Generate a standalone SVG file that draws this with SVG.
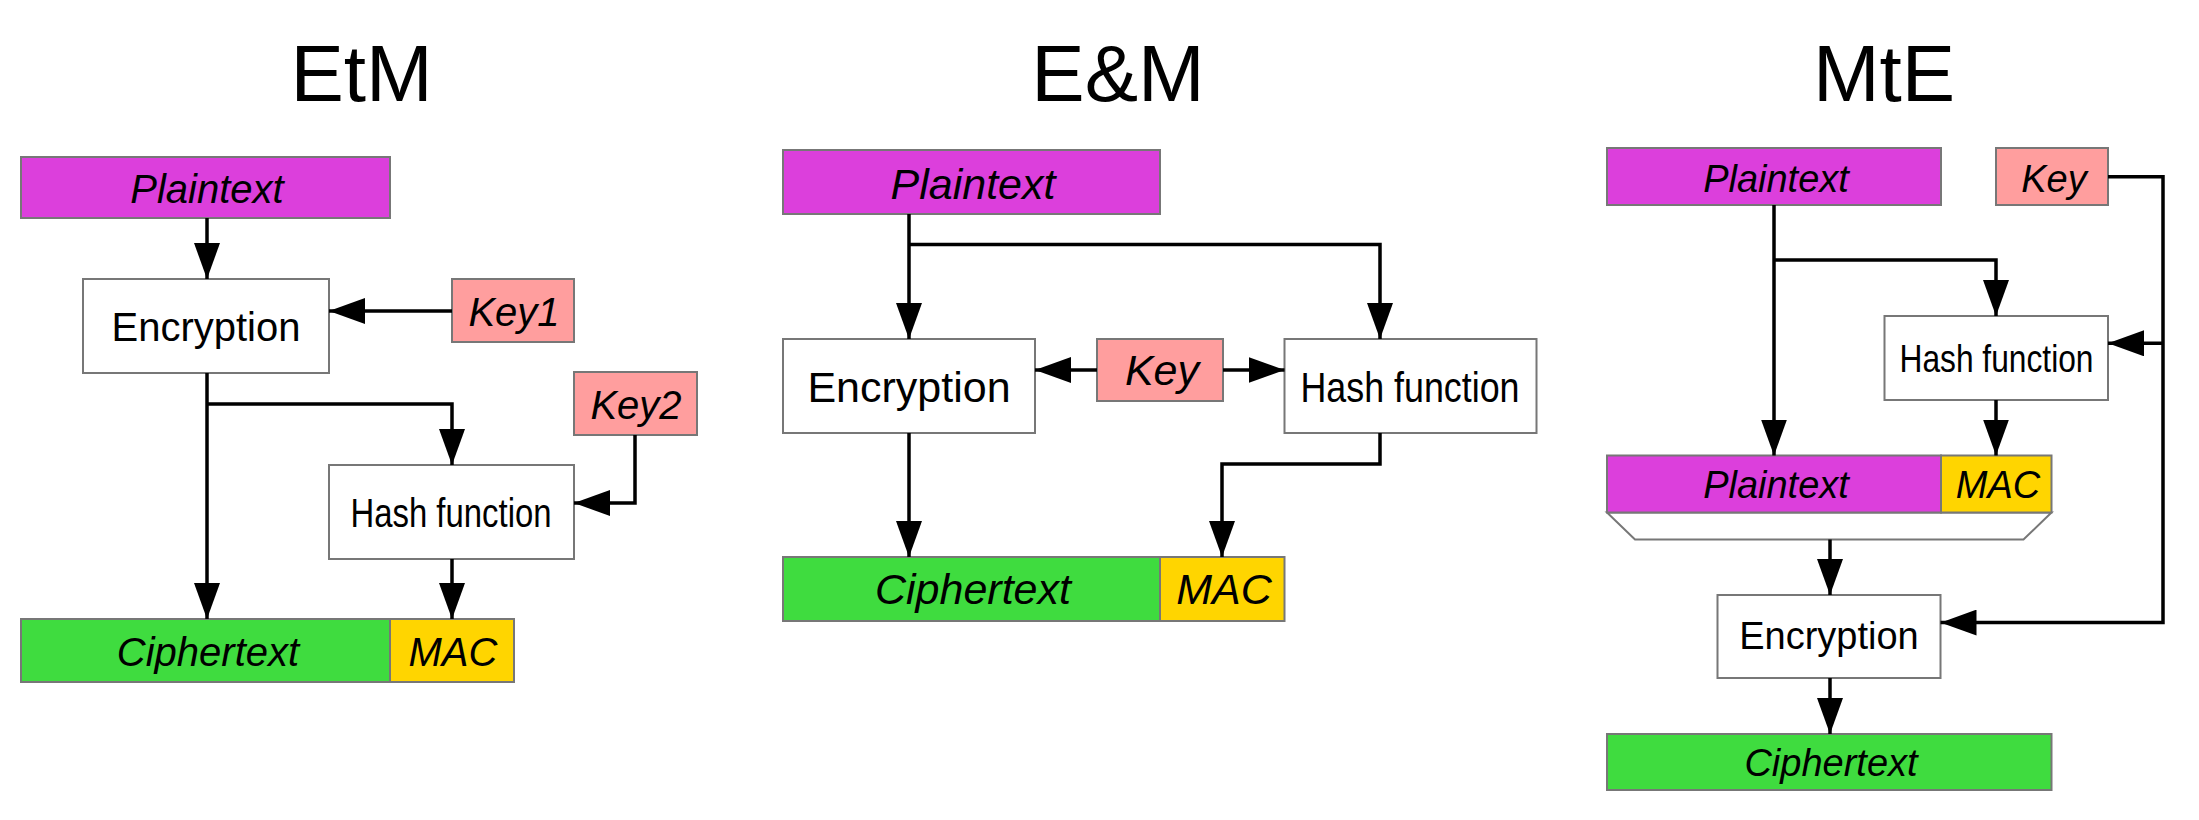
<svg xmlns="http://www.w3.org/2000/svg" width="2199" height="820" viewBox="0 0 2199 820">
<defs>
<marker id="ah" markerUnits="userSpaceOnUse" markerWidth="36" markerHeight="26" refX="36" refY="13" orient="auto">
<path d="M0,0 L36,13 L0,26 Z" fill="#000"/>
</marker>
<style>
.title{font-family:"Liberation Sans",Arial,sans-serif;font-size:80px;fill:#000;text-anchor:middle}
.lbl{font-family:"Liberation Sans",Arial,sans-serif;fill:#000;text-anchor:middle}
.it{font-style:italic}
.box{stroke:#777;stroke-width:2}
.pt{fill:#DC3FDC}
.ct{fill:#3FDC3F}
.mac{fill:#FFD500}
.key{fill:#FF9E9E}
.op{fill:#FFFFFF}
.f40{font-size:40px}
.f43{font-size:43px}
.f38{font-size:38px}
.conn path{fill:none;stroke:#000;stroke-width:3.5}
</style>
</defs>
<rect width="2199" height="820" fill="#fff"/>

<text class="title" x="361.5" y="101">EtM</text>
<text class="title" x="1118" y="101">E&amp;M</text>
<text class="title" x="1884" y="101">MtE</text>

<!-- EtM -->
<g id="etm-plaintext"><rect class="box pt" x="21" y="157" width="369" height="61"/><text class="lbl it f40" x="207" y="203">Plaintext</text></g>
<g id="etm-encryption"><rect class="box op" x="83" y="279" width="246" height="94"/><text class="lbl f40" x="206" y="341">Encryption</text></g>
<g id="etm-key1"><rect class="box key" x="452" y="279" width="122" height="63"/><text class="lbl it f40" x="514" y="326">Key1</text></g>
<g id="etm-key2"><rect class="box key" x="574" y="372" width="123" height="63"/><text class="lbl it f40" x="636" y="419">Key2</text></g>
<g id="etm-hash"><rect class="box op" x="329" y="465" width="245" height="94"/><text class="lbl f40" x="451" y="527" textLength="201" lengthAdjust="spacingAndGlyphs">Hash function</text></g>
<g id="etm-ciphertext"><rect class="box ct" x="21" y="619" width="369" height="63"/><text class="lbl it f40" x="208" y="666">Ciphertext</text></g>
<g id="etm-mac"><rect class="box mac" x="390" y="619" width="124" height="63"/><text class="lbl it f40" x="453" y="666">MAC</text></g>

<!-- E&M -->
<g id="em-plaintext"><rect class="box pt" x="783" y="150" width="377" height="64"/><text class="lbl it f43" x="973" y="199">Plaintext</text></g>
<g id="em-encryption"><rect class="box op" x="783" y="339" width="252" height="94"/><text class="lbl f43" x="909" y="402">Encryption</text></g>
<g id="em-key"><rect class="box key" x="1097" y="339" width="126" height="62"/><text class="lbl it f43" x="1162" y="385">Key</text></g>
<g id="em-hash"><rect class="box op" x="1284.5" y="339" width="252" height="94"/><text class="lbl f43" x="1410" y="402" textLength="219" lengthAdjust="spacingAndGlyphs">Hash function</text></g>
<g id="em-ciphertext"><rect class="box ct" x="783" y="557" width="377" height="64"/><text class="lbl it f43" x="973" y="604">Ciphertext</text></g>
<g id="em-mac"><rect class="box mac" x="1160" y="557" width="124.5" height="64"/><text class="lbl it f43" x="1224" y="604">MAC</text></g>

<!-- MtE -->
<g id="mte-plaintext"><rect class="box pt" x="1607" y="148" width="334" height="57"/><text class="lbl it f38" x="1776" y="192">Plaintext</text></g>
<g id="mte-key"><rect class="box key" x="1996" y="148" width="112" height="57"/><text class="lbl it f38" x="2054" y="192">Key</text></g>
<g id="mte-hash"><rect class="box op" x="1884.5" y="316" width="223.5" height="84"/><text class="lbl f38" x="1996.5" y="372" textLength="194" lengthAdjust="spacingAndGlyphs">Hash function</text></g>
<g id="mte-plaintext-mac">
<polygon class="box op" points="1607,512.5 2051.5,512.5 2023.5,539.5 1635,539.5"/>
<rect class="box pt" x="1607" y="455.5" width="334" height="57"/><text class="lbl it f38" x="1776" y="498">Plaintext</text>
<rect class="box mac" x="1941" y="455.5" width="110.5" height="57"/><text class="lbl it f38" x="1998" y="498">MAC</text>
</g>
<g id="mte-encryption"><rect class="box op" x="1717.5" y="595" width="223" height="83"/><text class="lbl f38" x="1829" y="649">Encryption</text></g>
<g id="mte-ciphertext"><rect class="box ct" x="1607" y="734" width="444.5" height="56"/><text class="lbl it f38" x="1831" y="776">Ciphertext</text></g>

<g id="connectors" class="conn">
<!-- EtM -->
<path d="M207,218 V279" marker-end="url(#ah)"/>
<path d="M452,311 H329" marker-end="url(#ah)"/>
<path d="M207,373 V619" marker-end="url(#ah)"/>
<path d="M207,404 H452 V465" marker-end="url(#ah)"/>
<path d="M635,435 V503 H574" marker-end="url(#ah)"/>
<path d="M452,559 V619" marker-end="url(#ah)"/>
<!-- E&M -->
<path d="M909,214 V339" marker-end="url(#ah)"/>
<path d="M909,244.5 H1380 V339" marker-end="url(#ah)"/>
<path d="M1097,370 H1035" marker-end="url(#ah)"/>
<path d="M1223,370 H1284.5" marker-end="url(#ah)"/>
<path d="M909,433 V557" marker-end="url(#ah)"/>
<path d="M1380,433 V464 H1222 V557" marker-end="url(#ah)"/>
<!-- MtE -->
<path d="M2108,176.7 H2163 V622.6 H1940.5" marker-end="url(#ah)"/>
<path d="M2163,343.3 H2108" marker-end="url(#ah)"/>
<path d="M1774,205 V455.5" marker-end="url(#ah)"/>
<path d="M1774,260 H1996 V316" marker-end="url(#ah)"/>
<path d="M1996,400 V455.5" marker-end="url(#ah)"/>
<path d="M1830,539.5 V595" marker-end="url(#ah)"/>
<path d="M1830,678 V734" marker-end="url(#ah)"/>
</g>
</svg>
